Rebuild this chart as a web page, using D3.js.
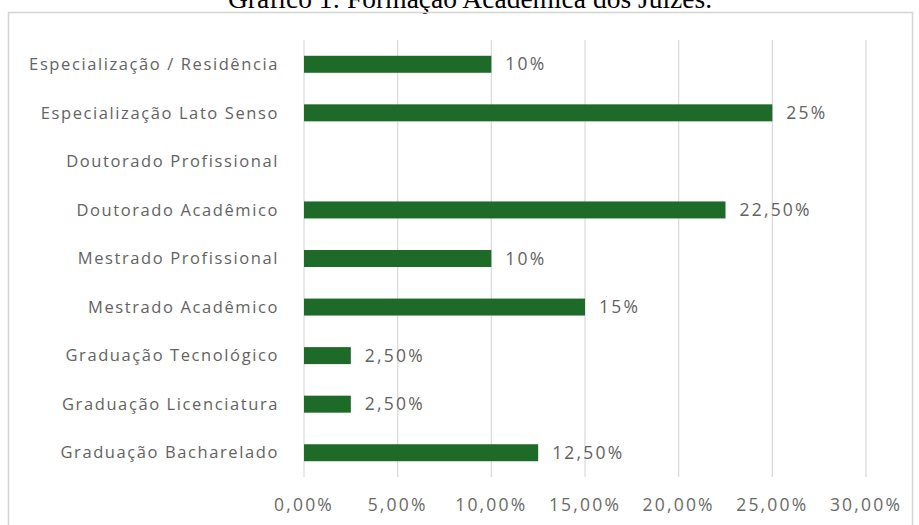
<!DOCTYPE html>
<html>
<head>
<meta charset="utf-8">
<script src="https://cdn.jsdelivr.net/npm/d3@7"></script>
<style>
    body { margin: 0; background: #fff; }
    svg text { font-family: "Open Sans", Lato, sans-serif; }
</style>
</head>
<body>
<div id="chart"></div>
<script>

// categories top to bottom, values in %
var categories = [
    "Especialização / Residência",
    "Especialização Lato Senso",
    "Doutorado Profissional",
    "Doutorado Acadêmico",
    "Mestrado Profissional",
    "Mestrado Acadêmico",
    "Graduação Tecnológico",
    "Graduação Licenciatura",
    "Graduação Bacharelado"
];
var values = [10, 25, null, 22.5, 10, 15, 2.5, 2.5, 12.5];
var valueLabels = ["10%", "25%", "", "22,50%", "10%", "15%", "2,50%", "2,50%", "12,50%"];
var ticks = [0, 5, 10, 15, 20, 25, 30];
var tickLabels = ["0,00%", "5,00%", "10,00%", "15,00%", "20,00%", "25,00%", "30,00%"];

var width = 919, height = 525;

function init() {

    var svg = d3.select("#chart").append("svg")
        .attr("width", width)
        .attr("height", height);

    // title (cut at the top like the scan)
    svg.append("text")
        .attr("x", 470)
        .attr("y", 8)
        .attr("text-anchor", "middle")
        .style("font-family", "'Liberation Serif', 'Times New Roman', serif")
        .style("font-size", "27.5px")
        .style("fill", "#000")
        .text("Gráfico 1: Formação Acadêmica dos Juízes.");

    // chart frame
    svg.append("rect")
        .attr("x", 8.5)
        .attr("y", 12.5)
        .attr("width", 904)
        .attr("height", 530)
        .attr("fill", "none")
        .attr("stroke", "#d4d4d4")
        .attr("stroke-width", 1.5);

    var x = d3.scaleLinear().domain([0, 30]).range([304, 866]);
    var y = d3.scaleBand().domain(categories).range([40, 477]).paddingInner(0.65).paddingOuter(0.325);

    // gridlines
    svg.selectAll(".grid")
        .data(ticks)
        .join("line")
        .attr("class", "grid")
        .attr("x1", d => x(d)).attr("x2", d => x(d))
        .attr("y1", 40).attr("y2", 477)
        .attr("stroke", "#d9d9d9")
        .attr("stroke-width", 1.2);

    // tick labels
    svg.selectAll(".tick")
        .data(ticks)
        .join("text")
        .attr("class", "tick")
        .attr("x", d => x(d))
        .attr("y", 505)
        .attr("dy", "0.35em")
        .attr("text-anchor", "middle")
        .style("font-size", "17.5px")
        .style("letter-spacing", "2.2px")
        .style("fill", "#6a6a6a")
        .text((d, i) => tickLabels[i]);

    // category labels
    svg.selectAll(".cat")
        .data(categories)
        .join("text")
        .attr("class", "cat")
        .attr("x", 279)
        .attr("y", d => y(d) + y.bandwidth() / 2)
        .attr("dy", "0.35em")
        .attr("text-anchor", "end")
        .style("font-size", "16.5px")
        .style("letter-spacing", "1.6px")
        .style("fill", "#636363")
        .text(d => d);

    // bars
    svg.selectAll(".bar")
        .data(categories.filter((d, i) => values[i] != null))
        .join("rect")
        .attr("class", "bar")
        .attr("x", x(0))
        .attr("y", d => y(d))
        .attr("width", d => x(values[categories.indexOf(d)]) - x(0))
        .attr("height", y.bandwidth())
        .attr("fill", "#1e6a28");

    // value labels
    svg.selectAll(".val")
        .data(categories.filter((d, i) => values[i] != null))
        .join("text")
        .attr("class", "val")
        .attr("x", d => x(values[categories.indexOf(d)]) + 14)
        .attr("y", d => y(d) + y.bandwidth() / 2)
        .attr("dy", "0.35em")
        .style("font-size", "17.5px")
        .style("letter-spacing", "2.2px")
        .style("fill", "#636363")
        .text(d => valueLabels[categories.indexOf(d)]);
}

window.onload = init();
</script>
</body>
</html>
